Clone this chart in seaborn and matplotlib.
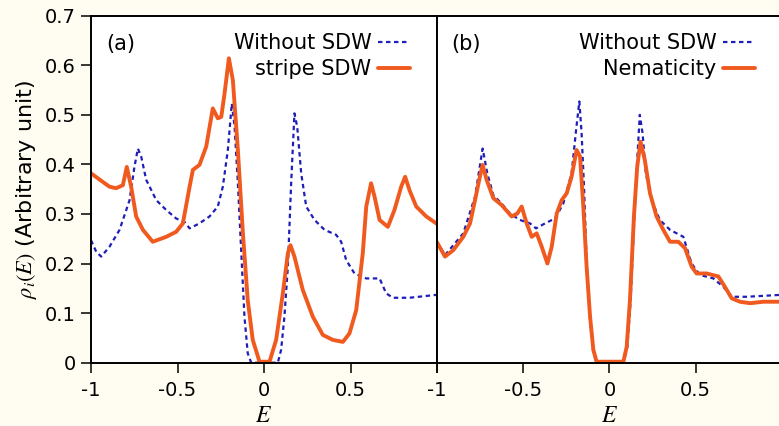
import matplotlib
matplotlib.use("Agg")
import matplotlib.pyplot as plt
import seaborn as sns

# ---- data (E, rho) ----
# panel (a): without SDW
a_blue_E = [-1.0, -0.970, -0.941, -0.893, -0.835, -0.777, -0.749, -0.729, -0.710, -0.681,
            -0.623, -0.565, -0.508, -0.460, -0.430, -0.373, -0.315, -0.267, -0.238, -0.209,
            -0.186, -0.170, -0.151, -0.132, -0.113, -0.094, -0.074, 0.080, 0.099, 0.118,
            0.138, 0.157, 0.176, 0.192, 0.215, 0.244, 0.292, 0.350, 0.417, 0.446,
            0.475, 0.523, 0.591, 0.668, 0.706, 0.745, 0.841, 1.0]
a_blue_rho = [0.247, 0.224, 0.214, 0.234, 0.268, 0.328, 0.395, 0.432, 0.416, 0.369,
              0.328, 0.308, 0.291, 0.284, 0.271, 0.281, 0.295, 0.315, 0.355, 0.429,
              0.523, 0.476, 0.362, 0.227, 0.093, 0.019, 0.0, 0.0, 0.026, 0.093,
              0.194, 0.362, 0.503, 0.476, 0.382, 0.315, 0.288, 0.268, 0.258, 0.244,
              0.207, 0.180, 0.170, 0.170, 0.140, 0.131, 0.131, 0.137]

# panel (a): stripe SDW
a_orng_E = [-1.0, -0.893, -0.855, -0.816, -0.793, -0.768, -0.739, -0.700, -0.643, -0.565,
            -0.508, -0.469, -0.430, -0.411, -0.373, -0.334, -0.296, -0.267, -0.247, -0.228,
            -0.203, -0.180, -0.151, -0.122, -0.094, -0.065, -0.026, 0.032, 0.070, 0.109,
            0.138, 0.153, 0.176, 0.224, 0.282, 0.340, 0.398, 0.456, 0.494, 0.533,
            0.571, 0.591, 0.619, 0.639, 0.668, 0.716, 0.754, 0.793, 0.816, 0.841,
            0.880, 0.938, 1.0]
a_orng_rho = [0.382, 0.355, 0.352, 0.358, 0.395, 0.355, 0.295, 0.268, 0.244, 0.254,
              0.264, 0.281, 0.355, 0.389, 0.399, 0.436, 0.513, 0.493, 0.496, 0.543,
              0.614, 0.570, 0.429, 0.261, 0.126, 0.046, 0.002, 0.002, 0.046, 0.140,
              0.221, 0.237, 0.214, 0.147, 0.093, 0.056, 0.046, 0.042, 0.059, 0.106,
              0.221, 0.315, 0.362, 0.335, 0.288, 0.274, 0.308, 0.355, 0.375, 0.348,
              0.315, 0.295, 0.280]

# panel (b): without SDW
b_blue_E = [-1.0, -0.952, -0.846, -0.778, -0.734, -0.707, -0.672, -0.624, -0.576, -0.518,
            -0.460, -0.425, -0.373, -0.315, -0.267, -0.219, -0.193, -0.174, -0.161, -0.147,
            -0.132, -0.112, -0.093, -0.074, 0.081, 0.104, 0.123, 0.142, 0.161, 0.176,
            0.192, 0.211, 0.244, 0.292, 0.351, 0.428, 0.476, 0.524, 0.602, 0.660,
            0.708, 0.795, 1.0]
b_blue_rho = [0.244, 0.217, 0.261, 0.335, 0.432, 0.382, 0.338, 0.321, 0.301, 0.288,
              0.281, 0.271, 0.281, 0.291, 0.321, 0.382, 0.469, 0.527, 0.463, 0.355,
              0.207, 0.086, 0.019, 0.0, 0.0, 0.032, 0.126, 0.274, 0.409, 0.500,
              0.463, 0.382, 0.328, 0.288, 0.268, 0.254, 0.200, 0.177, 0.170, 0.153,
              0.133, 0.133, 0.137]

# panel (b): nematicity
b_orng_E = [-1.0, -0.952, -0.904, -0.846, -0.807, -0.778, -0.750, -0.734, -0.711, -0.672,
            -0.624, -0.566, -0.533, -0.508, -0.479, -0.450, -0.421, -0.392, -0.359, -0.334,
            -0.305, -0.276, -0.247, -0.219, -0.190, -0.170, -0.151, -0.132, -0.112, -0.093,
            -0.074, 0.081, 0.100, 0.119, 0.142, 0.161, 0.180, 0.205, 0.235, 0.273,
            0.312, 0.351, 0.399, 0.438, 0.476, 0.505, 0.563, 0.631, 0.669, 0.708,
            0.756, 0.814, 0.891, 1.0]
b_orng_rho = [0.244, 0.214, 0.227, 0.254, 0.281, 0.328, 0.375, 0.399, 0.369, 0.332,
              0.318, 0.295, 0.301, 0.315, 0.281, 0.254, 0.261, 0.234, 0.200, 0.234,
              0.301, 0.328, 0.342, 0.375, 0.429, 0.416, 0.315, 0.194, 0.093, 0.026,
              0.002, 0.002, 0.032, 0.126, 0.295, 0.395, 0.446, 0.409, 0.342, 0.295,
              0.268, 0.244, 0.244, 0.231, 0.194, 0.180, 0.180, 0.174, 0.153, 0.130,
              0.123, 0.120, 0.123, 0.123]

x_ticks = [-1, -0.5, 0, 0.5, 1]
y_ticks = [0, 0.1, 0.2, 0.3, 0.4, 0.5, 0.6, 0.7]
y_ticklabels = ["0", "0.1", "0.2", "0.3", "0.4", "0.5", "0.6", "0.7"]

BLUE = "#1f1fb8"
ORANGE = "#f05a1e"

sns.set_style("ticks")
plt.rcParams["font.family"] = ["DejaVu Sans"]
plt.rcParams["mathtext.fontset"] = "stix"
plt.rcParams["axes.unicode_minus"] = False
plt.rcParams["text.color"] = "black"
plt.rcParams["axes.labelcolor"] = "black"
plt.rcParams["xtick.color"] = "black"
plt.rcParams["ytick.color"] = "black"
plt.rcParams["xtick.labelcolor"] = "black"
plt.rcParams["ytick.labelcolor"] = "black"

fig = plt.figure(figsize=(7.79, 4.26), dpi=100)
fig.patch.set_facecolor("#fffdf1")

ax_a = fig.add_axes([91 / 779, 1 - 362.7 / 426, 346 / 779, 347 / 426])
ax_b = fig.add_axes([436.7 / 779, 1 - 362.7 / 426, 345.4 / 779, 347 / 426])

panels = [
    (ax_a, a_blue_E, a_blue_rho, a_orng_E, a_orng_rho, "stripe SDW", "(a)"),
    (ax_b, b_blue_E, b_blue_rho, b_orng_E, b_orng_rho, "Nematicity", "(b)"),
]

for ax, bE, brho, oE, orho, olab, tag in panels:
    ax.set_facecolor("white")
    sns.lineplot(x=bE, y=brho, ax=ax, color=BLUE, linewidth=1.6,
                 dashes=(2.0, 1.6), label="Without SDW", sort=False)
    sns.lineplot(x=oE, y=orho, ax=ax, color=ORANGE, linewidth=2.8,
                 label=olab, sort=False)
    ax.set_xlim(-1, 1)
    ax.set_ylim(0, 0.7)
    ax.set_xticks(x_ticks)
    ax.set_yticks(y_ticks)
    ax.set_xlabel("$E$", fontsize=17, labelpad=2, color="black")
    for sp in ax.spines.values():
        sp.set_visible(True)
        sp.set_linewidth(1.4)
        sp.set_color("black")
    ax.tick_params(axis="both", direction="out", length=7.5, width=1.1,
                   labelsize=14, color="black", labelcolor="black")
    ax.tick_params(axis="x", pad=6)
    ax.tick_params(axis="y", pad=3.5)
    ax.tick_params(top=False, right=False)
    leg = ax.legend(loc="upper right", bbox_to_anchor=(0.922, 0.95), frameon=False,
                    markerfirst=False, fontsize=15, handlelength=1.55,
                    handletextpad=0.3, labelspacing=0.3, borderaxespad=0, borderpad=0)
    for t in leg.get_texts():
        t.set_color("black")
    ax.text(0.043, 0.918, tag, transform=ax.transAxes, fontsize=15,
            ha="left", va="center", color="black")

ax_a.set_xticklabels(["-1", "-0.5", "0", "0.5", ""])
ax_a.set_yticklabels(y_ticklabels)
ax_a.set_ylabel(r"$\rho_i(E)$ (Arbitrary unit)", fontsize=16, labelpad=4, color="black")

ax_b.set_xticklabels(["-1", "-0.5", "0", "0.5", ""])
ax_b.set_yticks(y_ticks)
ax_b.tick_params(axis="y", left=False, labelleft=False)
ax_b.set_ylabel("")

fig.savefig("out.png", dpi=100, facecolor=fig.get_facecolor())
